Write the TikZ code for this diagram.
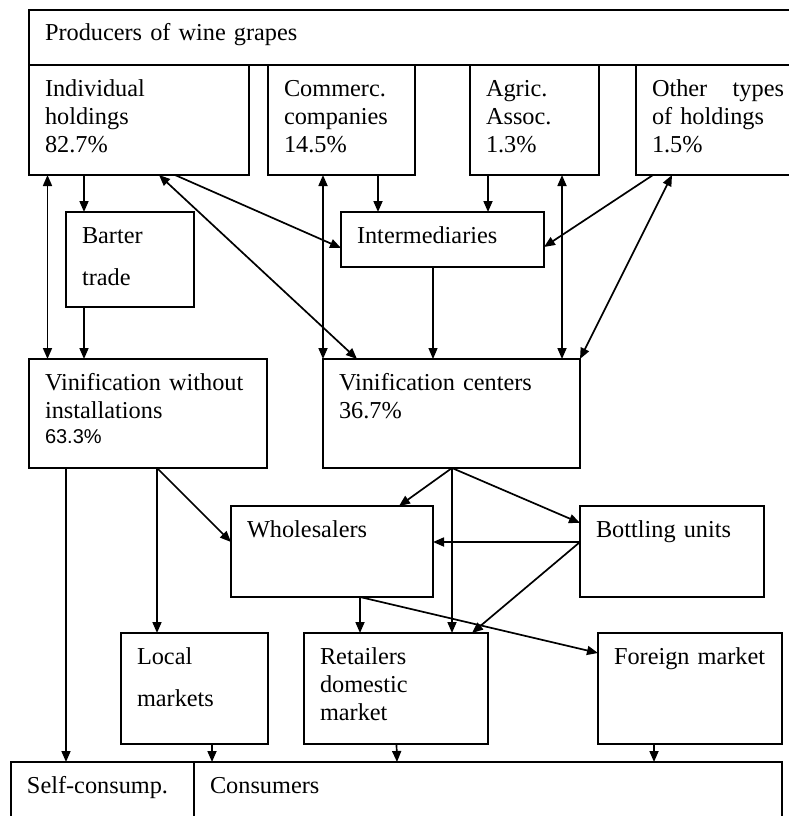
\documentclass[tikz,border=0pt]{standalone}
\usepackage{fontspec}
\setmainfont{Liberation Serif}
\setsansfont{Liberation Sans}
\usetikzlibrary{arrows.meta,calc}

\begin{document}
\begin{tikzpicture}[x=1pt,y=-1pt,
    box/.style={draw, line width=1.3pt, anchor=north west, inner xsep=16pt, inner ysep=0pt,
        outer sep=0pt, align=left, text height=31pt, font=\fontsize{24.3}{28.3}\selectfont},
    link/.style={line width=1.7pt, -{Triangle[length=11pt,width=9pt]}},
    both/.style={line width=1.7pt, {Triangle[length=11pt,width=9pt]}-{Triangle[length=11pt,width=9pt]}}]
            \clip (0,0) rectangle (789,816);

            \node[box, text width=748pt, text depth=24pt] (p0) at (29,10) {Producers of wine grapes};
            \node[box, text width=188pt, text depth=79pt] (p1) at (29,65) {Individual\\holdings\\82.7\%};
            \node[box, text width=115pt, text depth=79pt] (p2) at (268,65) {Commerc.\\companies\\14.5\%};
            \node[box, text width=97pt, text depth=79pt] (p3) at (470,65) {Agric.\\Assoc.\\1.3\%};
            \node[box, text width=132pt, text depth=79pt] (p4) at (636,65) {Other\hfill types\\of holdings\\1.5\%};
            \node[box, text width=96pt, text depth=64pt] (b1) at (66,212) {Barter\\[14pt]trade};
            \node[box, text width=171pt, text depth=24pt] (m1) at (341,212) {Intermediaries};
            \node[box, text width=206pt, text depth=78pt] (v1) at (29,359) {Vinification without\\installations\\[-3.5pt]{\sffamily\fontsize{20}{24}\selectfont 63.3\%}};
            \node[box, text width=225pt, text depth=78pt] (v2) at (323,359) {Vinification centers\\36.7\%};
            \node[box, text width=170pt, text depth=60pt] (w1) at (231,506) {Wholesalers};
            \node[box, text width=152pt, text depth=60pt] (u1) at (580,506) {Bottling units};
            \node[box, text width=115pt, text depth=80pt] (l1) at (121,633) {Local\\[14pt]markets};
            \node[box, text width=152pt, text depth=80pt] (r1) at (304,633) {Retailers\\domestic\\market};
            \node[box, text width=152pt, text depth=80pt] (f1) at (598,633) {Foreign market};
            \node[box, text width=151pt, text depth=70pt] (s1) at (11,762) {Self-consump.};
            \node[box, text width=556pt, text depth=70pt] (c1) at (194,762) {Consumers};

            \draw[both] ($(p1.south west)+(18.5,0)$) -- ($(v1.north west)+(18.5,0)$);
            \draw[link] ($(p1.south west)+(55,0)$) -- ($(b1.north west)+(18,0)$);
            \draw[link] ($(b1.south west)+(18,0)$) -- ($(v1.north west)+(55,0)$);
            \draw[both] ($(p1.south west)+(130,0)$) -- ($(v2.north west)+(34,0)$);
            \draw[link] ($(p1.south west)+(146,0)$) -- ($(m1.north west)+(0,36)$);
            \draw[both] ($(p2.south west)+(55,0)$) -- (v2.north west);
            \draw[link] ($(p2.south west)+(110,0)$) -- ($(m1.north west)+(37,0)$);
            \draw[link] ($(p3.south west)+(18,0)$) -- ($(m1.north west)+(147,0)$);
            \draw[both] ($(p3.south west)+(92,0)$) -- ($(v2.north west)+(239,0)$);
            \draw[link] ($(p4.south west)+(17,0)$) -- ($(m1.north east)+(0,35)$);
            \draw[both] ($(p4.south west)+(36,0)$) -- (v2.north east);
            \draw[link, line width=1.2pt] ($(m1.south west)+(92,0)$) -- ($(v2.north west)+(110,0)$);

            \draw[link] ($(v1.south west)+(37,0)$) -- ($(s1.north west)+(55,0)$);
            \draw[link] ($(v1.south west)+(128,0)$) -- ($(l1.north west)+(36,0)$);
            \draw[link] ($(v1.south west)+(128,0)$) -- ($(w1.north west)+(0,36)$);
            \draw[link] ($(v2.south west)+(129,0)$) -- ($(w1.north west)+(168,0)$);
            \draw[link] ($(v2.south west)+(129,0)$) -- ($(r1.north west)+(148,0)$);
            \draw[link] ($(v2.south west)+(129,0)$) -- ($(u1.north west)+(0,17)$);
            \draw[link] ($(u1.north west)+(0,36)$) -- ($(w1.north east)+(0,36)$);
            \draw[link] ($(u1.north west)+(0,36)$) -- ($(r1.north west)+(168,0)$);
            \draw[link] ($(w1.south west)+(129,0)$) -- ($(r1.north west)+(56,0)$);
            \draw[link] ($(w1.south west)+(129,0)$) -- ($(f1.north west)+(0,20)$);

            \draw[link] ($(l1.south west)+(91,0)$) -- ($(c1.north west)+(18,0)$);
            \draw[link] ($(r1.south west)+(92.5,0)$) -- ($(c1.north west)+(203,0)$);
            \draw[link] ($(f1.south west)+(56,0)$) -- ($(c1.north west)+(460,0)$);
\end{tikzpicture}
\end{document}
